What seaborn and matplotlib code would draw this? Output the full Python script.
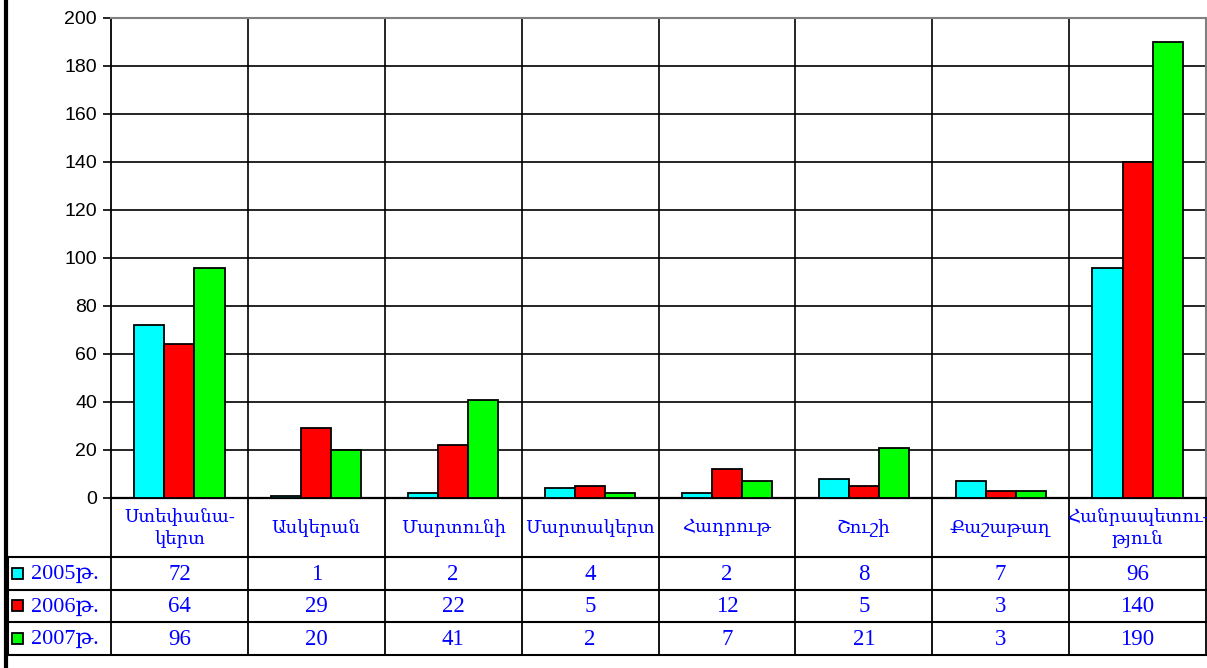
import numpy as np
import pandas as pd
import matplotlib
matplotlib.use('Agg')
import matplotlib.pyplot as plt
import seaborn as sns
from matplotlib.transforms import blended_transform_factory
from matplotlib.patches import Rectangle

# Data
regions = ['Ստեփանա-\nկերտ', 'Ասկերան', 'Մարտունի', 'Մարտակերտ',
           'Հադրութ', 'Շուշի', 'Քաշաթաղ', 'Հանրապետու-\nթյուն']
years = ['2005թ.', '2006թ.', '2007թ.']
v2005 = [72, 1, 2, 4, 2, 8, 7, 96]
v2006 = [64, 29, 22, 5, 12, 5, 3, 140]
v2007 = [96, 20, 41, 2, 7, 21, 3, 190]
colors = ['#00FFFF', '#FF0000', '#00FF00']
yticks = list(range(0, 201, 20))

series = [v2005, v2006, v2007]
df = pd.DataFrame({
    'region': regions * len(years),
    'year': np.repeat(years, len(regions)),
    'value': v2005 + v2006 + v2007,
})

sns.set_style('white')
serif = ['Liberation Serif', 'DejaVu Serif', 'DejaVu Sans']

W, H = 1207, 668
fig = plt.figure(figsize=(W / 100, H / 100), dpi=100)
ax = fig.add_axes([111 / W, 1 - 498 / H, (1206 - 111) / W, (498 - 18) / H])

sns.barplot(data=df, x='region', y='value', hue='year', order=regions,
            hue_order=years, palette=colors, width=0.66, gap=0,
            edgecolor='black', linewidth=1.3, saturation=1,
            errorbar=None, legend=False, ax=ax, zorder=3)

ax.set_xlim(-0.5, len(regions) - 0.5)
ax.set_ylim(0, 200)
ax.set_yticks(yticks)
ax.set_xticks([])
ax.set_xlabel('')
ax.set_ylabel('')

# grid like the excel chart
for y in yticks[1:-1]:
    ax.axhline(y, color='black', lw=1.2, zorder=1)
for x in np.arange(0.5, len(regions) - 0.5, 1):
    ax.axvline(x, color='black', lw=1.2, zorder=1)

ax.spines['left'].set_color('black')
ax.spines['left'].set_linewidth(1.3)
ax.spines['bottom'].set_color('black')
ax.spines['bottom'].set_linewidth(1.6)
for s in ['top', 'right']:
    ax.spines[s].set_color('#808080')
    ax.spines[s].set_linewidth(1.5)
ax.tick_params(axis='y', left=True, length=6, width=1.2, color='black',
               direction='out', labelsize=14, labelcolor='black', pad=4)
for lab in ax.get_yticklabels():
    lab.set_family('Liberation Sans')

# data table below the chart
ov = fig.add_axes([0, 0, 1, 1], zorder=5)
ov.set_xlim(0, W)
ov.set_ylim(H, 0)
ov.axis('off')
ov.patch.set_alpha(0)
bt = blended_transform_factory(ax.transData, ov.transData)

row_lines = [557, 590, 622, 655]
for x in np.arange(-0.5, len(regions), 1):
    ov.plot([x, x], [498, 655], transform=bt, color='black', lw=1.3)
for y in row_lines:
    ov.plot([8, W], [y, y], color='black', lw=1.5)
ov.plot([8, 8], [557, 655], color='black', lw=1.5)
ov.plot([6, 6], [0, H], color='black', lw=3)

for i, name in enumerate(regions):
    ov.text(i, 528, name, transform=bt, ha='center', va='center',
            color='blue', family=serif, fontsize=13, linespacing=1.3)

for r, (yr, vals, c) in enumerate(zip(years, series, colors)):
    yc = (row_lines[r] + row_lines[r + 1]) / 2
    ov.add_patch(Rectangle((12, yc - 6), 11, 11, facecolor=c,
                           edgecolor='black', lw=1.3))
    ov.text(31, yc + 1, yr, ha='left', va='center', color='blue',
            family=serif, fontsize=16)
    for i, v in enumerate(vals):
        ov.text(i, yc + 1, str(v), transform=bt, ha='center', va='center',
                color='blue', family=serif, fontsize=16.5)

fig.savefig('out.png', dpi=100)
